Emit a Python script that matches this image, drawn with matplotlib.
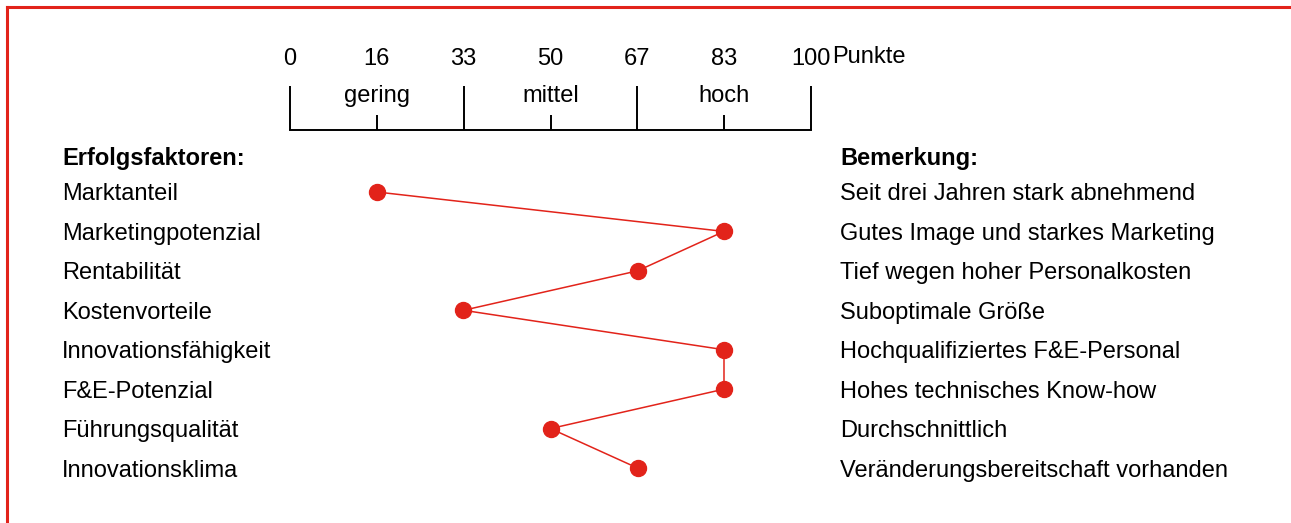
import matplotlib
matplotlib.use("Agg")
import matplotlib.pyplot as plt
import matplotlib.transforms as mtransforms
from matplotlib.lines import Line2D

plt.rcParams['font.family'] = ['Liberation Sans', 'DejaVu Sans']

factors = ["Marktanteil", "Marketingpotenzial", "Rentabilität", "Kostenvorteile",
           "Innovationsfähigkeit", "F&E-Potenzial", "Führungsqualität", "Innovationsklima"]
scores = [16.7, 83.3, 66.7, 33.3, 83.3, 83.3, 50.0, 66.7]
remarks = ["Seit drei Jahren stark abnehmend", "Gutes Image und starkes Marketing",
           "Tief wegen hoher Personalkosten", "Suboptimale Größe",
           "Hochqualifiziertes F&E-Personal", "Hohes technisches Know-how",
           "Durchschnittlich", "Veränderungsbereitschaft vorhanden"]

major_pos = [0, 100 / 3, 200 / 3, 100]
major_lbl = ["0", "33", "67", "100"]
minor_pos = [100 / 6, 50, 500 / 6]
minor_lbl = ["16", "50", "83"]
levels = ["gering", "mittel", "hoch"]

red = "#e2231a"
fs = 17
W, H = 1291, 523
fig = plt.figure(figsize=(W / 100, H / 100), dpi=100)

# frame: top and left edge only
fig.add_artist(Line2D([7 / W, 1], [1 - 6.5 / H] * 2, color=red, lw=2.2, transform=fig.transFigure))
fig.add_artist(Line2D([7 / W] * 2, [0, 1 - 6.5 / H], color=red, lw=2.2, transform=fig.transFigure))

ax_top, ax_bot = 130, 500
ax = fig.add_axes([290 / W, 1 - ax_bot / H, 521 / W, (ax_bot - ax_top) / H])
row0, step = 192, 39.43
ax.set_ylim((ax_bot - row0) / step, (ax_top - row0) / step)
ax.set_xlim(0, 100)
for s in ["left", "right", "bottom"]:
    ax.spines[s].set_visible(False)
ax.spines["top"].set_linewidth(1.4)
ax.set_yticks([])
ax.xaxis.tick_top()
ax.set_xticks(major_pos, major_lbl)
ax.set_xticks(minor_pos, minor_lbl, minor=True)
ax.tick_params(axis="x", which="major", direction="out", length=32, width=1.4, pad=11, labelsize=fs)
ax.tick_params(axis="x", which="minor", direction="out", length=11, width=1.4, pad=32, labelsize=fs)
ax.tick_params(axis="x", which="both", bottom=False, labelbottom=False)
ax.patch.set_visible(False)

# scale levels and unit
lev_tr = mtransforms.blended_transform_factory(ax.transData, fig.transFigure)
for p, t in zip(minor_pos, levels):
    ax.text(p, 1 - 96 / H, t, transform=lev_tr, ha="center", va="center", fontsize=fs)
ax.text(104, 1 - 57 / H, "Punkte", transform=lev_tr, ha="left", va="center", fontsize=fs)

rows = list(range(len(factors)))
ax.plot(scores, rows, color=red, lw=1.1, marker="o", markersize=11.5,
        markerfacecolor=red, markeredgecolor=red, clip_on=False, zorder=3)

col_tr = mtransforms.blended_transform_factory(fig.transFigure, ax.transData)
head_y = (156 - row0) / step
ax.text(62 / W, head_y, "Erfolgsfaktoren:", transform=col_tr, fontsize=fs,
        fontweight="bold", va="center_baseline", ha="left")
ax.text(840 / W, head_y, "Bemerkung:", transform=col_tr, fontsize=fs,
        fontweight="bold", va="center_baseline", ha="left")
for r, f, rm in zip(rows, factors, remarks):
    ax.text(62 / W, r, f, transform=col_tr, fontsize=fs, va="center_baseline", ha="left")
    ax.text(840 / W, r, rm, transform=col_tr, fontsize=fs, va="center_baseline", ha="left")

fig.savefig("out.png", dpi=100)
